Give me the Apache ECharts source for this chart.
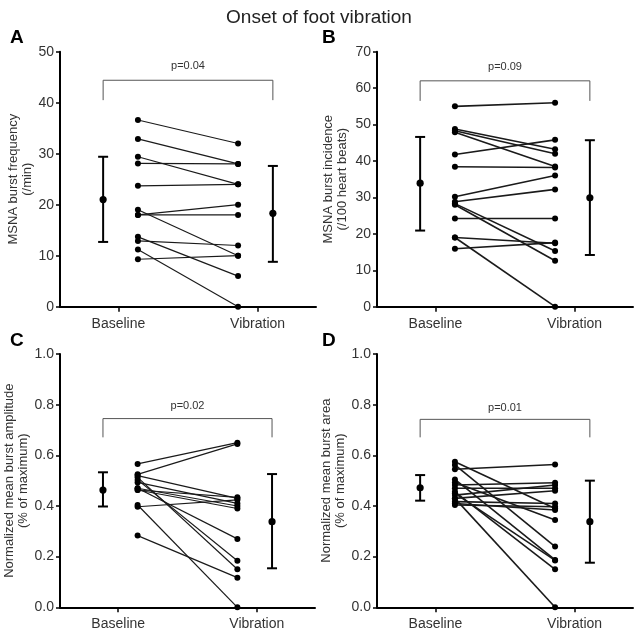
<!DOCTYPE html>
<html>
<head>
<meta charset="utf-8">
<script src="https://cdn.jsdelivr.net/npm/echarts@6/dist/echarts.min.js"></script>
<style>
html,body{margin:0;padding:0;background:#fff;}
#chart{width:638px;height:634px;}
</style>
</head>
<body>
<div id="chart"></div>
<script>
// ---------- data ----------
const categories = ['Baseline', 'Vibration'];
const chartTitle = 'Onset of foot vibration';
const panelLetters = ['A', 'B', 'C', 'D'];
const yNames = [
  'MSNA burst frequency\n(/min)',
  'MSNA burst incidence\n(/100 heart beats)',
  'Normalized mean burst amplitude\n(% of maximum)',
  'Normalized mean burst area\n(% of maximum)'
];
const yMax = [50, 70, 1.0, 1.0];
const yInterval = [10, 10, 0.2, 0.2];
const pLabels = ['p=0.04', 'p=0.09', 'p=0.02', 'p=0.01'];
const bracketLow = [40.5, 56.5, 0.671, 0.671];
const bracketHigh = [44.4, 62.0, 0.745, 0.742];
const pLabelY = [47.2, 65.8, 0.795, 0.785];

// A: MSNA burst frequency (/min)
const aBaseline = [36.6, 32.9, 29.4, 28.1, 23.7, 18.0, 18.0, 19.0, 13.7, 12.9, 11.2, 9.3];
const aVibration = [32.0, 28.0, 24.0, 28.0, 24.0, 20.0, 18.0, 10.0, 6.0, 12.0, 0.0, 10.0];
const aMean = [21.0, 18.3];
const aLow = [12.7, 8.8];
const aHigh = [29.4, 27.6];

// B: MSNA burst incidence (/100 heart beats)
const bBaseline = [55.0, 48.8, 48.3, 47.9, 41.8, 38.4, 30.2, 28.8, 28.3, 28.0, 24.2, 19.0, 19.0, 15.9];
const bVibration = [56.0, 43.2, 42.0, 38.5, 45.8, 38.2, 36.0, 32.2, 15.3, 12.6, 24.2, 17.4, 0.0, 17.6];
const bMean = [33.9, 29.9];
const bLow = [20.9, 14.2];
const bHigh = [46.6, 45.7];

// C: normalized mean burst amplitude
const cBaseline = [0.566, 0.525, 0.513, 0.503, 0.520, 0.493, 0.470, 0.463, 0.463, 0.470, 0.404, 0.397, 0.283];
const cVibration = [0.650, 0.645, 0.150, 0.184, 0.430, 0.410, 0.270, 0.434, 0.390, 0.400, 0.000, 0.424, 0.117];
const cMean = [0.463, 0.338];
const cLow = [0.398, 0.154];
const cHigh = [0.533, 0.526];

// D: normalized mean burst area
const dBaseline = [0.575, 0.562, 0.545, 0.505, 0.493, 0.483, 0.470, 0.456, 0.443, 0.430, 0.430, 0.417, 0.410, 0.404, 0.450];
const dVibration = [0.390, 0.240, 0.564, 0.187, 0.345, 0.492, 0.470, 0.150, 0.483, 0.000, 0.460, 0.410, 0.384, 0.397, 0.185];
const dMean = [0.472, 0.338];
const dLow = [0.421, 0.176];
const dHigh = [0.522, 0.500];

const panels = [
  {base: aBaseline, vib: aVibration, mean: aMean, low: aLow, high: aHigh},
  {base: bBaseline, vib: bVibration, mean: bMean, low: bLow, high: bHigh},
  {base: cBaseline, vib: cVibration, mean: cMean, low: cLow, high: cHigh},
  {base: dBaseline, vib: dVibration, mean: dMean, low: dLow, high: dHigh}
];

// ---------- layout ----------
const FONT = '"Liberation Sans", Arial, sans-serif';
const grids = [
  {left: 60, top: 51.7, width: 256, height: 255},
  {left: 377, top: 51.7, width: 256, height: 255},
  {left: 60, top: 354, width: 255, height: 253.3},
  {left: 377, top: 354, width: 256, height: 253.3}
];
const nameGaps = [19, 28, 27, 29];
const letterPos = [[10, 28], [322, 28], [10, 331], [322, 331]];
const X_MIN = 0.58, X_MAX = 2.42;
const X_IND = [1.14, 1.86];
const X_MEAN = [0.89, 2.11];

const chart = echarts.init(document.getElementById('chart'), null, {renderer: 'canvas'});

const xAxes = [], yAxes = [], series = [];
panels.forEach((p, i) => {
  xAxes.push({
    gridIndex: i, type: 'value', min: X_MIN, max: X_MAX,
    axisLine: {show: true, lineStyle: {color: '#000', width: 2}},
    axisTick: {show: true, customValues: [1, 2], length: 5, lineStyle: {color: '#000', width: 1.5}},
    axisLabel: {show: true, customValues: [1, 2], margin: 10,
      formatter: v => categories[Math.round(v) - 1] || '',
      fontFamily: FONT, fontSize: 14, color: '#333'},
    splitLine: {show: false}
  });
  const dec = yMax[i] <= 1;
  yAxes.push({
    gridIndex: i, type: 'value', min: 0, max: yMax[i], interval: yInterval[i],
    axisLine: {show: true, lineStyle: {color: '#000', width: 2}},
    axisTick: {show: true, length: 4, lineStyle: {color: '#000', width: 1.5}},
    axisLabel: {margin: 6, fontFamily: FONT, fontSize: 14, color: '#333',
      formatter: v => dec ? v.toFixed(1) : String(v)},
    splitLine: {show: false},
    name: yNames[i], nameLocation: 'middle', nameGap: nameGaps[i], nameRotate: 90,
    nameTextStyle: {fontFamily: FONT, fontSize: 13, color: '#333', lineHeight: 14}
  });

  // bracket
  series.push({
    type: 'line', xAxisIndex: i, yAxisIndex: i, symbol: 'none', silent: true,
    lineStyle: {color: '#555', width: 1},
    data: [[X_MEAN[0], bracketLow[i]], [X_MEAN[0], bracketHigh[i]], [X_MEAN[1], bracketHigh[i]], [X_MEAN[1], bracketLow[i]]],
    z: 2
  });
  // p label
  series.push({
    type: 'custom', xAxisIndex: i, yAxisIndex: i, silent: true,
    data: [[(X_MEAN[0] + X_MEAN[1]) / 2, pLabelY[i]]],
    renderItem: (params, api) => {
      const c = api.coord([api.value(0), api.value(1)]);
      return {type: 'text', x: c[0], y: c[1],
        style: {text: pLabels[i], textAlign: 'center', textVerticalAlign: 'middle',
          font: '11px ' + FONT, fill: '#333'}};
    }
  });
  // paired individual data
  series.push({
    type: 'custom', xAxisIndex: i, yAxisIndex: i, silent: true, clip: false,
    data: p.base.map((b, k) => [b, p.vib[k]]),
    renderItem: (params, api) => {
      const p1 = api.coord([X_IND[0], api.value(0)]);
      const p2 = api.coord([X_IND[1], api.value(1)]);
      return {type: 'group', children: [
        {type: 'line', shape: {x1: p1[0], y1: p1[1], x2: p2[0], y2: p2[1]},
          style: {stroke: '#1a1a1a', lineWidth: (i === 0 || i === 2) ? 1.2 : 1.6}},
        {type: 'circle', shape: {cx: p1[0], cy: p1[1], r: 3}, style: {fill: '#000'}},
        {type: 'circle', shape: {cx: p2[0], cy: p2[1], r: 3}, style: {fill: '#000'}}
      ]};
    },
    z: 3
  });
  // mean ± SD
  series.push({
    type: 'custom', xAxisIndex: i, yAxisIndex: i, silent: true, clip: false,
    data: p.mean.map((m, k) => [X_MEAN[k], m, p.low[k], p.high[k]]),
    renderItem: (params, api) => {
      const x = api.value(0);
      const cm = api.coord([x, api.value(1)]);
      const cl = api.coord([x, api.value(2)]);
      const ch = api.coord([x, api.value(3)]);
      const w = 5;
      const st = {stroke: '#000', lineWidth: 2};
      return {type: 'group', children: [
        {type: 'line', shape: {x1: cl[0], y1: cl[1], x2: ch[0], y2: ch[1]}, style: st},
        {type: 'line', shape: {x1: cl[0] - w, y1: cl[1], x2: cl[0] + w, y2: cl[1]}, style: st},
        {type: 'line', shape: {x1: ch[0] - w, y1: ch[1], x2: ch[0] + w, y2: ch[1]}, style: st},
        {type: 'circle', shape: {cx: cm[0], cy: cm[1], r: 3.6}, style: {fill: '#000'}}
      ]};
    },
    z: 4
  });
});

const option = {
  animation: false,
  backgroundColor: '#fff',
  title: {text: chartTitle, left: 'center', top: 3,
    textStyle: {fontFamily: FONT, fontSize: 19, fontWeight: 'normal', color: '#222'}},
  graphic: panelLetters.map((t, i) => ({
    type: 'text', left: letterPos[i][0], top: letterPos[i][1],
    style: {text: t, font: 'bold 19px ' + FONT, fill: '#000'}
  })),
  grid: grids.map(g => Object.assign({containLabel: false}, g)),
  xAxis: xAxes,
  yAxis: yAxes,
  series: series
};
chart.setOption(option);
</script>
</body>
</html>
